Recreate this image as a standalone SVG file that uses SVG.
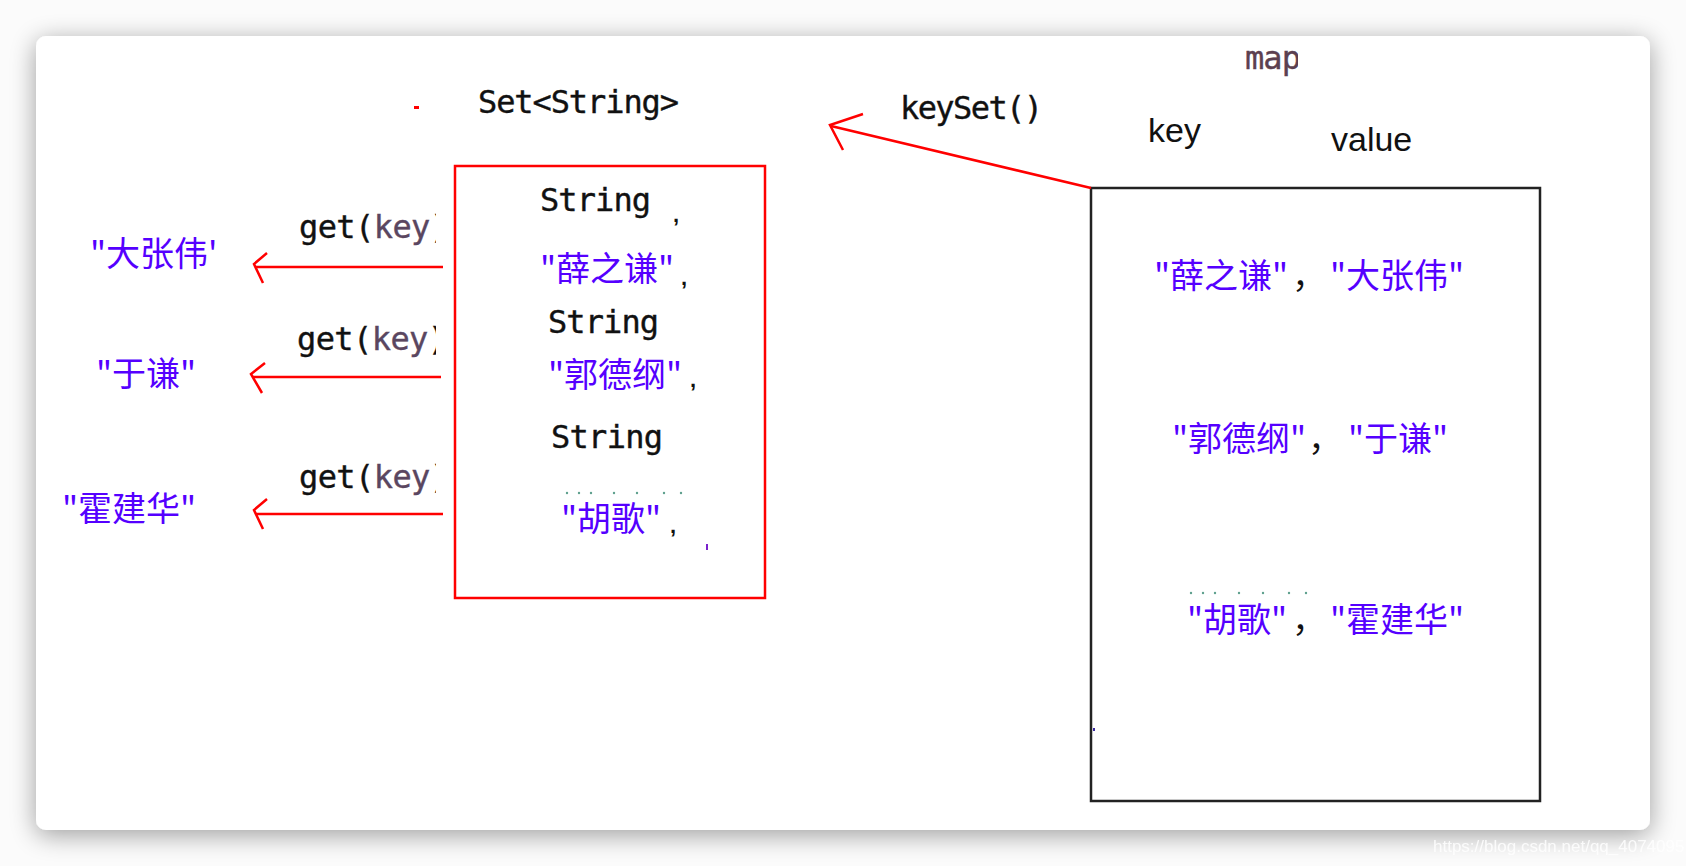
<svg xmlns="http://www.w3.org/2000/svg" width="1686" height="866" viewBox="0 0 1686 866">
<defs>
<filter id="sh" x="-5%" y="-8%" width="110%" height="118%">
<feGaussianBlur in="SourceAlpha" stdDeviation="13"/>
<feOffset dy="5"/>
<feComponentTransfer><feFuncA type="linear" slope="0.38"/></feComponentTransfer>
<feMerge><feMergeNode/><feMergeNode in="SourceGraphic"/></feMerge>
</filter>
<clipPath id="gk"><rect x="280" y="190" width="156" height="330"/></clipPath>
<clipPath id="mp"><rect x="1230" y="30" width="68" height="60"/></clipPath>
</defs>
<style>
.mono{font-family:"DejaVu Sans Mono","Liberation Mono",monospace;font-size:32px;fill:#111;stroke:#111;stroke-width:0.4}
.sans{font-family:"Liberation Sans",Arial,sans-serif;font-size:34px;fill:#111}
.cjk{font-family:"Noto Sans CJK SC","Noto Sans",sans-serif;font-size:34px;fill:#5500ff}
.cm{font-family:"Noto Sans CJK SC","Noto Sans",sans-serif;font-size:34px;fill:#111}
.sc{font-family:"Liberation Sans",sans-serif;font-size:22px;fill:#111;font-weight:bold}
.kw{fill:#5a4660;stroke:#5a4660}
.red{fill:none;stroke:#ff0000;stroke-width:2.5}
.dot{fill:#5fa08e}
</style>
<rect x="0" y="0" width="1686" height="866" fill="#fbfbfb"/>
<rect x="36" y="36" width="1614" height="794" rx="10" fill="#ffffff" filter="url(#sh)"/>
<text x="1433" y="852" font-family="Liberation Sans,sans-serif" font-size="17" fill="#ffffff" opacity="0.85">https://blog.csdn.net/qq_4074095</text>

<g id="set-title">
<rect x="414" y="106" width="5" height="3" fill="#ff0000"/>
<text class="mono" x="478" y="113" textLength="201">Set&lt;String&gt;</text>
</g>

<g id="map-title">
<text class="mono" x="1245" y="69" style="fill:#5c4050;stroke:#5c4050" textLength="56" clip-path="url(#mp)">map</text>
<text class="sans" x="1148" y="142">key</text>
<text class="sans" x="1331" y="151">value</text>
</g>

<g id="keyset-label">
<text class="mono" x="900" y="119" textLength="143">keySet()</text>
</g>

<g id="set-box">
<rect x="455" y="166" width="310" height="432" fill="none" stroke="#ff0000" stroke-width="2.5"/>
<text class="mono" x="540" y="211" textLength="111">String</text>
<text class="sc" x="673" y="222">,</text>
<text class="cjk" x="540" y="281">"薛之谦"</text>
<text class="sc" x="681" y="285" font-size="16">,</text>
<text class="mono" x="548" y="333" textLength="111">String</text>
<text class="cjk" x="548" y="387">"郭德纲"</text>
<text class="sc" x="690" y="387">,</text>
<text class="mono" x="551" y="448" textLength="112">String</text>
<g id="dots1">
<circle class="dot" cx="567" cy="493" r="1.2"/><circle class="dot" cx="579" cy="493" r="1.2"/><circle class="dot" cx="591" cy="493" r="1.2"/><circle class="dot" cx="614" cy="493" r="1.2"/><circle class="dot" cx="637" cy="493" r="1.2"/><circle class="dot" cx="664" cy="493" r="1.2"/><circle class="dot" cx="681" cy="493" r="1.2"/>
</g>
<text class="cjk" x="561" y="531">"胡歌"</text>
<text class="sc" x="670" y="533">,</text>
<rect x="706" y="544" width="2" height="6" fill="#7a22cc"/>
</g>

<g id="map-box">
<rect x="1091" y="188" width="449" height="613" fill="none" stroke="#222" stroke-width="2.5"/>
<text class="cjk" x="1154" y="288">"薛之谦"</text>
<text class="cm" x="1292" y="288">，</text>
<text class="cjk" x="1330" y="288">"大张伟"</text>
<text class="cjk" x="1172" y="451">"郭德纲"</text>
<text class="cm" x="1308" y="451">，</text>
<text class="cjk" x="1348" y="451">"于谦"</text>
<g id="dots2">
<circle class="dot" cx="1191" cy="593" r="1.2"/><circle class="dot" cx="1203" cy="593" r="1.2"/><circle class="dot" cx="1215" cy="593" r="1.2"/><circle class="dot" cx="1239" cy="593" r="1.2"/><circle class="dot" cx="1263" cy="593" r="1.2"/><circle class="dot" cx="1289" cy="593" r="1.2"/><circle class="dot" cx="1306" cy="593" r="1.2"/>
</g>
<text class="cjk" x="1187" y="632">"胡歌"</text>
<text class="cm" x="1292" y="632">，</text>
<text class="cjk" x="1330" y="632">"霍建华"</text>
<rect x="1093" y="728" width="2" height="3" fill="#3a2aa0"/>
</g>

<g id="value-1"><text class="cjk" x="90" y="266">"大张伟'</text></g>
<g id="value-2"><text class="cjk" x="96" y="386">"于谦"</text></g>
<g id="value-3"><text class="cjk" x="62" y="521">"霍建华"</text></g>

<g id="get-labels" clip-path="url(#gk)">
<text class="mono" x="299" y="238" textLength="150">get(<tspan class="kw">key</tspan>)</text>
<text class="mono" x="297" y="350" textLength="150">get(<tspan class="kw">key</tspan>)</text>
<text class="mono" x="299" y="488" textLength="150">get(<tspan class="kw">key</tspan>)</text>
</g>

<g id="connectors">
<line class="red" x1="1091" y1="188" x2="831" y2="126"/>
<polyline class="red" points="863,114 830,125 843,150"/>
<line class="red" x1="443" y1="267" x2="256" y2="267"/>
<polyline class="red" points="267,253 254,264 263,283"/>
<line class="red" x1="441" y1="377" x2="253" y2="377"/>
<polyline class="red" points="265,363 251,374 262,393"/>
<line class="red" x1="443" y1="514" x2="256" y2="514"/>
<polyline class="red" points="267,499 254,510 263,529"/>
</g>
</svg>
